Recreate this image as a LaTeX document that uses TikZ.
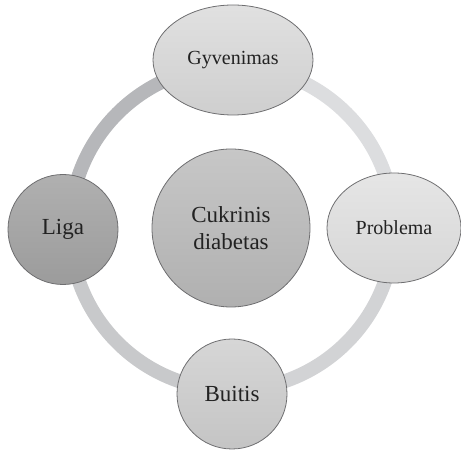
\documentclass[tikz,border=0pt]{standalone}
\usepackage{fontspec}
\setmainfont{Liberation Serif}
\usetikzlibrary{shapes.geometric}

\definecolor{edgegray}{HTML}{6E6E70}
\definecolor{textgray}{HTML}{222222}
\definecolor{arcA}{HTML}{B6B7BA}
\definecolor{arcB}{HTML}{DCDDDF}
\definecolor{arcC}{HTML}{D2D3D5}
\definecolor{arcD}{HTML}{C8C9CB}

\tikzset{
  bubble/.style={draw=edgegray, line width=0.8pt, inner sep=0pt,
    text=textgray, align=center},
  roundbubble/.style={bubble, circle, minimum size=#1},
  ovalbubble/.style={bubble, ellipse},
  ringarc/.style={line width=14pt, draw=#1},
  smalltext/.style={font=\fontsize{20}{24}\selectfont},
  bigtext/.style={font=\fontsize{23}{26.7}\selectfont},
}

\begin{document}
\begin{tikzpicture}[x=1pt,y=1pt]
\useasboundingbox (0,0) rectangle (461,452);

% the cycle ring, drawn as four arcs around its centre
\coordinate (ring) at (232,224);
\draw[ringarc=arcA] (ring) ++(180:162pt) arc[start angle=180, end angle=90, radius=162pt];
\draw[ringarc=arcB] (ring) ++(90:162pt) arc[start angle=90, end angle=0, radius=162pt];
\draw[ringarc=arcC] (ring) ++(0:162pt) arc[start angle=0, end angle=-90, radius=162pt];
\draw[ringarc=arcD] (ring) ++(270:162pt) arc[start angle=270, end angle=180, radius=162pt];

% central topic
\node[roundbubble=158pt, bigtext, top color=black!22, bottom color=black!31]
  (center) at (231,224) {Cukrinis\\diabetas};

% items on the ring
\node[ovalbubble, minimum width=160pt, minimum height=110pt, smalltext,
  top color=black!12, bottom color=black!19] (top) at (233,392) {Gyvenimas};
\node[roundbubble=110pt, bigtext, top color=black!31, bottom color=black!39]
  (left) at (63,222.5) {Liga};
\node[ovalbubble, minimum width=134pt, minimum height=110pt, smalltext,
  top color=black!10, bottom color=black!16] (right) at (394,224) {Problema};
\node[roundbubble=110pt, bigtext, top color=black!16, bottom color=black!23]
  (bottom) at (232,58) {Buitis};
\end{tikzpicture}
\end{document}
